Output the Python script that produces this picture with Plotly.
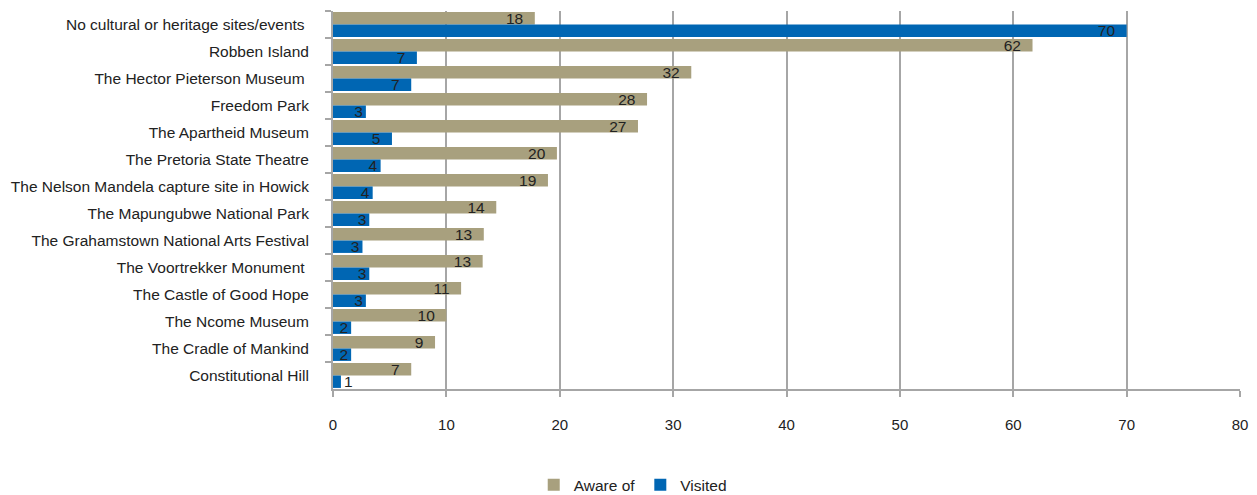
import plotly.graph_objects as go

categories = [
    "No cultural or heritage sites/events ",
    "Robben Island",
    "The Hector Pieterson Museum ",
    "Freedom Park",
    "The Apartheid Museum",
    "The Pretoria State Theatre",
    "The Nelson Mandela capture site in Howick",
    "The Mapungubwe National Park",
    "The Grahamstown National Arts Festival",
    "The Voortrekker Monument ",
    "The Castle of Good Hope",
    "The Ncome Museum",
    "The Cradle of Mankind",
    "Constitutional Hill",
]
aware_of = [17.8, 61.7, 31.6, 27.7, 26.9, 19.75, 18.96, 14.4, 13.3, 13.2, 11.3, 10.0, 9.0, 6.9]
visited = [70.0, 7.4, 6.9, 2.9, 5.2, 4.2, 3.5, 3.2, 2.6, 3.2, 2.9, 1.6, 1.6, 0.7]
x_ticks = [0, 10, 20, 30, 40, 50, 60, 70, 80]

FONT = "Liberation Sans, Arial, sans-serif"
TAN = "#A8A07E"
BLUE = "#0066B3"
FS = 15.5
NB = "\u00a0"


def label(v):
    s = f"{round(v)}"
    return s + NB * 2 if v >= 5 else s


fig = go.Figure()
for name, vals, col in [("Aware of", aware_of, TAN), ("Visited", visited, BLUE)]:
    fig.add_trace(go.Bar(
        name=name, y=categories, x=vals, orientation="h",
        marker=dict(color=col, line=dict(width=0)),
        text=[label(v) for v in vals],
        textposition=["outside" if v < 1 else "inside" for v in vals],
        insidetextanchor="end", textangle=0,
        textfont=dict(color="#222222", size=FS, family=FONT),
        constraintext="none", cliponaxis=False,
    ))

fig.update_layout(
    width=1257, height=495,
    margin=dict(l=325, r=25, t=3, b=114, autoexpand=False),
    paper_bgcolor="white", plot_bgcolor="white",
    barmode="group", bargap=0.08, bargroupgap=0,
    font=dict(family=FONT, size=FS, color="#222222"),
    uniformtext=dict(minsize=FS, mode="show"),
    legend=dict(orientation="h", xref="container", yref="container",
                x=0.497, xanchor="center", y=0.036, yanchor="middle",
                font=dict(size=FS, family=FONT), traceorder="normal"),
    showlegend=True,
)
fig.update_xaxes(
    range=[0, 80], tickvals=x_ticks, ticktext=[str(t) for t in x_ticks],
    showgrid=True, gridcolor="#A6A6A6", gridwidth=1.5,
    showline=True, linecolor="#A6A6A6", linewidth=2,
    ticks="outside", ticklen=6, tickcolor="#A6A6A6", tickwidth=1.5,
    zeroline=False, tickfont=dict(size=FS - 0.5, family=FONT), automargin=False,
    ticklabelstandoff=15,
)
fig.update_yaxes(
    autorange="reversed", type="category",
    showline=True, linecolor="#A6A6A6", linewidth=2,
    ticks="outside", ticklen=6, tickcolor="#A6A6A6", tickwidth=1.5,
    tickson="boundaries", showgrid=False, ticklabelstandoff=19,
    tickfont=dict(size=FS, family=FONT), automargin=False,
)

fig.write_html("out.html")
